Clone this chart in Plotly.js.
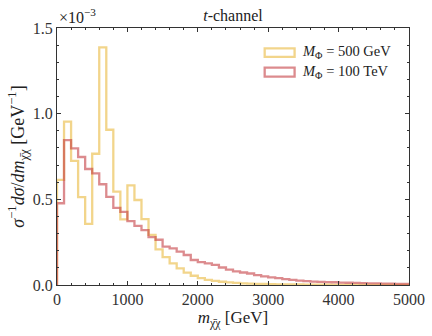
<!DOCTYPE html>
<html>
<head>
<meta charset="utf-8">
<script src="https://cdn.plot.ly/plotly-3.0.1.min.js"></script>
<style>
  html, body { margin: 0; padding: 0; background: #fff; }
  #chart { width: 432px; height: 336px; }
</style>
</head>
<body>
<div id="chart"></div>
<script>
// histogram bins: 0..5000 GeV, 100 GeV wide; values in units of 1e-3 GeV^-1
const BIN_WIDTH = 100;
const X_MAX = 5000;

const heavyLabel = "<i>M</i><sub>Φ</sub> = 500 GeV";
const lightLabel = "<i>M</i><sub>Φ</sub> = 100 TeV";

const m500 = [
  0.613, 0.953, 0.725, 0.513, 0.357, 0.766, 1.387, 0.906, 0.545, 0.383,
  0.581, 0.496, 0.385, 0.292, 0.208, 0.163, 0.126, 0.097, 0.072, 0.054,
  0.040, 0.030, 0.024, 0.019, 0.015, 0.012, 0.010, 0.008, 0.007, 0.006,
  0.005, 0.004, 0.004, 0.003, 0.003, 0.002, 0.002, 0.002, 0.002, 0.001,
  0.001, 0.001, 0.001, 0.001, 0.001, 0.001, 0.001, 0.001, 0.001, 0.001,
];

const m100T = [
  0.477, 0.845, 0.798, 0.747, 0.677, 0.652, 0.588, 0.514, 0.450, 0.427,
  0.373, 0.345, 0.320, 0.280, 0.264, 0.224, 0.214, 0.195, 0.175, 0.146,
  0.134, 0.126, 0.117, 0.102, 0.090, 0.080, 0.073, 0.067, 0.058, 0.050,
  0.044, 0.040, 0.034, 0.030, 0.026, 0.023, 0.020, 0.018, 0.017, 0.016,
  0.014, 0.013, 0.012, 0.011, 0.010, 0.009, 0.008, 0.008, 0.007, 0.007,
];

const YELLOW = "rgba(232,182,55,0.58)";
const RED = "rgba(195,55,60,0.58)";
const AXIS = "#333";
const FONT = "Liberation Serif, DejaVu Serif, serif";

// step outline like matplotlib histtype="step": drops to zero at both ends
function stepTrace(vals, color) {
  const xs = [0], ys = [0];
  vals.forEach((v, i) => { xs.push(i * BIN_WIDTH); ys.push(v); });
  xs.push(vals.length * BIN_WIDTH); ys.push(0);
  return {
    x: xs, y: ys, type: "scatter", mode: "lines",
    line: { color, width: 2.3, shape: "hv" },
    hoverinfo: "skip", showlegend: false,
  };
}

const axisBase = {
  showline: true, linecolor: AXIS, linewidth: 1, mirror: "allticks",
  ticks: "inside", ticklen: 4, tickcolor: AXIS, tickwidth: 1,
  showgrid: false, zeroline: false,
  tickfont: { size: 16, color: "#333", family: FONT },
};

const layout = {
  width: 432, height: 336,
  paper_bgcolor: "#fff", plot_bgcolor: "#fff",
  font: { family: FONT, color: "#222", size: 15 },
  margin: { l: 57, r: 23, t: 28, b: 51 },
  title: {
    text: "<i>t</i>-channel",
    x: 0.5, xref: "paper", y: 1, yref: "paper", yanchor: "bottom",
    pad: { b: 7 }, font: { size: 16, family: FONT, color: "#222" },
  },
  xaxis: {
    ...axisBase,
    range: [0, X_MAX], dtick: 1000, tick0: 0,
    minor: { dtick: 200, ticks: "inside", ticklen: 2, tickcolor: AXIS },
    title: { text: "<i>m</i><sub>χ̄χ</sub> [GeV]", standoff: 3, font: { size: 17, family: FONT } },
  },
  yaxis: {
    ...axisBase,
    range: [0, 1.5], dtick: 0.5, tick0: 0, tickformat: ".1f",
    minor: { dtick: 0.1, ticks: "inside", ticklen: 2, tickcolor: AXIS },
    title: {
      text: "<i>σ</i><sup>−1</sup><i>dσ</i>/<i>dm</i><sub>χ̄χ</sub> [GeV<sup>−1</sup>]",
      standoff: 3, font: { size: 18, family: FONT },
    },
  },
  annotations: [
    { text: "×10<sup>−3</sup>", xref: "paper", yref: "paper", x: 0, y: 1,
      xanchor: "left", yanchor: "bottom", showarrow: false, font: { size: 16, family: FONT } },
    { text: heavyLabel, xref: "paper", yref: "paper", x: 0.69, y: 0.905,
      xanchor: "left", yanchor: "middle", showarrow: false, font: { size: 14.5, family: FONT } },
    { text: lightLabel, xref: "paper", yref: "paper", x: 0.69, y: 0.828,
      xanchor: "left", yanchor: "middle", showarrow: false, font: { size: 14.5, family: FONT } },
  ],
  shapes: [
    { type: "rect", xref: "paper", yref: "paper", x0: 0.590, x1: 0.675, y0: 0.888, y1: 0.921,
      line: { color: YELLOW, width: 2.3 }, fillcolor: "rgba(0,0,0,0)" },
    { type: "rect", xref: "paper", yref: "paper", x0: 0.590, x1: 0.675, y0: 0.811, y1: 0.846,
      line: { color: RED, width: 2.3 }, fillcolor: "rgba(0,0,0,0)" },
  ],
  showlegend: false,
};

Plotly.newPlot("chart", [stepTrace(m500, YELLOW), stepTrace(m100T, RED)], layout,
  { displayModeBar: false, staticPlot: true });
</script>
</body>
</html>
